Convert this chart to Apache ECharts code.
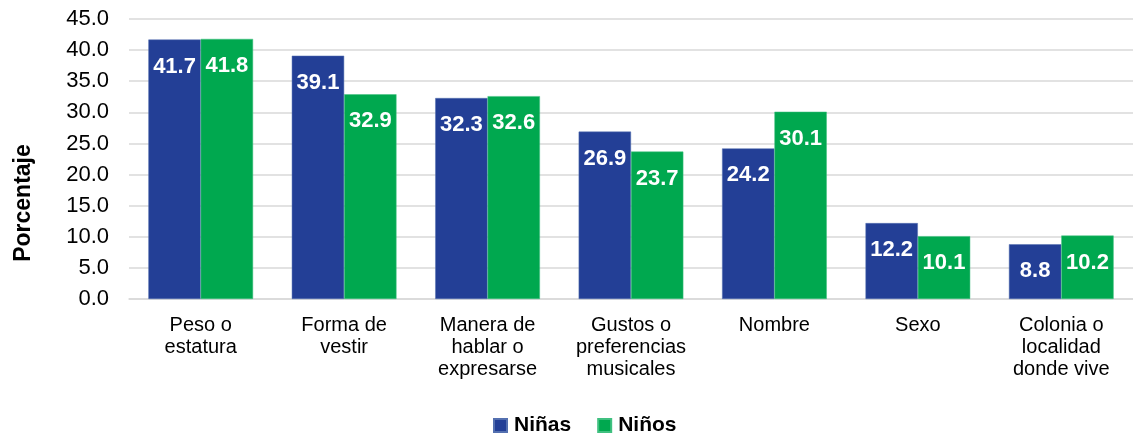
<!DOCTYPE html>
<html>
<head>
<meta charset="utf-8">
<script src="https://cdn.jsdelivr.net/npm/echarts@6/dist/echarts.min.js"></script>
<style>
  html,body{margin:0;padding:0;background:#fff;}
  #main{width:1133px;height:434px;}
</style>
</head>
<body>
<div id="main"></div>
<script>
var categorias = ['Peso o\nestatura', 'Forma de\nvestir', 'Manera de\nhablar o\nexpresarse', 'Gustos o\npreferencias\nmusicales', 'Nombre', 'Sexo', 'Colonia o\nlocalidad\ndonde vive'];
var ninas = [41.7, 39.1, 32.3, 26.9, 24.2, 12.2, 8.8];
var ninos = [41.8, 32.9, 32.6, 23.7, 30.1, 10.1, 10.2];

var fuente = 'Liberation Sans, Arial, sans-serif';

function etiqueta(){
    return {
        show: true,
        position: 'insideTop',
        distance: 16,
        color: '#fff',
        fontWeight: 'bold',
        fontSize: 22,
        fontFamily: fuente,
        formatter: function(p){ return p.value.toFixed(1); }
    };
}

var myChart = echarts.init(document.getElementById('main'));
var option = {
    animation: false,
    textStyle: { fontFamily: fuente },
    grid: { left: 129, top: 19, width: 1013, bottom: 135 },
    legend: {
        top: 410,
        left: 488,
        itemWidth: 13,
        itemHeight: 13,
        itemGap: 26,
        icon: 'rect',
        textStyle: { fontSize: 21, fontWeight: 'bold', color: '#000', fontFamily: fuente, padding: [0, 0, 0, 2] },
        data: ['Niñas', 'Niños']
    },
    graphic: [{
        type: 'text',
        x: 12,
        y: 203,
        rotation: Math.PI / 2,
        style: {
            text: 'Porcentaje',
            fill: '#000',
            font: 'bold 23px ' + fuente,
            align: 'center',
            verticalAlign: 'top'
        }
    }],
    xAxis: {
        type: 'category',
        data: categorias,
        axisTick: { show: false },
        axisLine: { lineStyle: { color: '#d9d9d9', width: 1.5 } },
        axisLabel: { color: '#000', fontSize: 20, lineHeight: 22, margin: 15, interval: 0, fontFamily: fuente }
    },
    yAxis: {
        type: 'value',
        min: 0,
        max: 45,
        interval: 5,
        axisLine: { show: false },
        axisTick: { show: false },
        splitLine: { lineStyle: { color: '#d9d9d9', width: 1.5 } },
        axisLabel: { color: '#000', fontSize: 22, margin: 20, fontFamily: fuente, formatter: function(v){ return v.toFixed(1); } }
    },
    series: [
        {
            name: 'Niñas',
            type: 'bar',
            data: ninas,
            barGap: '0%',
            barCategoryGap: '27%',
            itemStyle: { color: '#233f96', borderColor: '#5470b0', borderWidth: 0.5 },
            label: etiqueta()
        },
        {
            name: 'Niños',
            type: 'bar',
            data: ninos,
            itemStyle: { color: '#00a84f', borderColor: '#40c080', borderWidth: 0.5 },
            label: etiqueta()
        }
    ]
};
myChart.setOption(option);
</script>
</body>
</html>
